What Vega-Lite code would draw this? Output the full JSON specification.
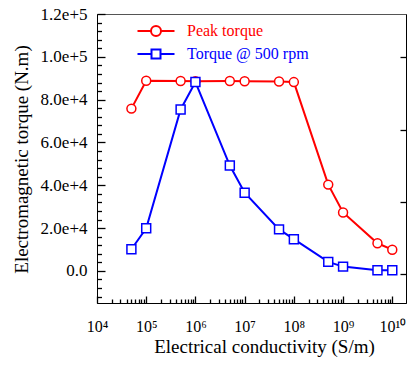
{
  "$schema": "https://vega.github.io/schema/vega-lite/v6.json",
  "width": 309,
  "height": 289,
  "autosize": {"type": "none"},
  "padding": {"left": 97, "top": 14, "right": 2, "bottom": 66},
  "background": "white",
  "config": {"view": {"stroke": "#555", "strokeWidth": 1}, "font": "Times New Roman"},
  "resolve": {"scale": {"y": "shared"}, "axis": {"y": "independent"}},
  "data": {"values": [
    {"series": "Peak torque", "x": 50000, "y": 75800},
    {"series": "Peak torque", "x": 100000, "y": 88800},
    {"series": "Peak torque", "x": 500000, "y": 88700},
    {"series": "Peak torque", "x": 1000000, "y": 88600},
    {"series": "Peak torque", "x": 5000000, "y": 88700},
    {"series": "Peak torque", "x": 10000000, "y": 88600},
    {"series": "Peak torque", "x": 50000000, "y": 88500},
    {"series": "Peak torque", "x": 100000000, "y": 88200},
    {"series": "Peak torque", "x": 500000000, "y": 40300},
    {"series": "Peak torque", "x": 1000000000, "y": 27300},
    {"series": "Peak torque", "x": 5000000000, "y": 12900},
    {"series": "Peak torque", "x": 10000000000, "y": 9900},
    {"series": "Torque @ 500 rpm", "x": 50000, "y": 10100},
    {"series": "Torque @ 500 rpm", "x": 100000, "y": 19900},
    {"series": "Torque @ 500 rpm", "x": 500000, "y": 75400},
    {"series": "Torque @ 500 rpm", "x": 1000000, "y": 88200},
    {"series": "Torque @ 500 rpm", "x": 5000000, "y": 49200},
    {"series": "Torque @ 500 rpm", "x": 10000000, "y": 36500},
    {"series": "Torque @ 500 rpm", "x": 50000000, "y": 19400},
    {"series": "Torque @ 500 rpm", "x": 100000000, "y": 14800},
    {"series": "Torque @ 500 rpm", "x": 500000000, "y": 4200},
    {"series": "Torque @ 500 rpm", "x": 1000000000, "y": 2000},
    {"series": "Torque @ 500 rpm", "x": 5000000000, "y": 300},
    {"series": "Torque @ 500 rpm", "x": 10000000000, "y": 300}
  ]},
  "encoding": {
    "x": {
      "field": "x", "type": "quantitative",
      "scale": {"type": "log", "domain": [10000, 19000000000], "nice": false},
      "axis": {
        "title": "Electrical conductivity (S/m)",
        "values": [10000, 20000, 30000, 40000, 50000, 60000, 70000, 80000, 90000,
                   100000, 200000, 300000, 400000, 500000, 600000, 700000, 800000, 900000,
                   1000000, 2000000, 3000000, 4000000, 5000000, 6000000, 7000000, 8000000, 9000000,
                   10000000, 20000000, 30000000, 40000000, 50000000, 60000000, 70000000, 80000000, 90000000,
                   100000000, 200000000, 300000000, 400000000, 500000000, 600000000, 700000000, 800000000, 900000000,
                   1000000000, 2000000000, 3000000000, 4000000000, 5000000000, 6000000000, 7000000000, 8000000000, 9000000000,
                   10000000000],
        "labelExpr": "datum.value == 10000 ? '10⁴' : datum.value == 100000 ? '10⁵' : datum.value == 1000000 ? '10⁶' : datum.value == 10000000 ? '10⁷' : datum.value == 100000000 ? '10⁸' : datum.value == 1000000000 ? '10⁹' : datum.value == 10000000000 ? '10¹⁰' : ''",
        "tickSize": {"condition": {"test": "abs(log(datum.value)/LN10 - round(log(datum.value)/LN10)) < 0.001", "value": -7}, "value": -4},
        "tickWidth": 1.3,
        "zindex": 1,
        "grid": false,
        "domainColor": "black", "tickColor": "black",
        "labelFont": "Times New Roman", "labelFontSize": 16, "labelColor": "black",
        "labelPadding": 22, "labelOverlap": false, "labelFlush": false, "labelBound": false,
        "titleFont": "Times New Roman", "titleFontSize": 19, "titleFontWeight": "normal", "titleColor": "black",
        "titleX": 167, "titleY": 49, "titleBaseline": "alphabetic", "titleAlign": "center"
      }
    }
  },
  "layer": [
    {
      "mark": {"type": "line", "strokeWidth": 2},
      "encoding": {
        "y": {
          "field": "y", "type": "quantitative",
          "scale": {"domain": [-15000, 120000], "nice": false, "zero": false},
          "axis": {
            "title": "Electromagnetic torque (N.m)",
            "values": [-12000, -8000, -4000, 0, 4000, 8000, 12000, 16000, 20000, 24000, 28000, 32000, 36000, 40000, 44000, 48000, 52000, 56000, 60000, 64000, 68000, 72000, 76000, 80000, 84000, 88000, 92000, 96000, 100000, 104000, 108000, 112000, 116000, 120000],
            "labelExpr": "datum.value >= 0 && datum.value % 20000 == 0 ? (datum.value == 0 ? '0.0' : format(datum.value, '.1e')) : ''",
            "tickSize": {"condition": {"test": "datum.value >= 0 && datum.value % 20000 == 0", "value": -8}, "value": -4.5},
            "tickWidth": 1.3,
            "zindex": 1,
            "grid": false,
            "domainColor": "black", "tickColor": "black",
            "labelFont": "Times New Roman", "labelFontSize": 17, "labelColor": "black",
            "labelPadding": 18, "labelOverlap": false, "labelFlush": false, "labelBound": false,
            "titleFont": "Times New Roman", "titleFontSize": 19, "titleFontWeight": "normal", "titleColor": "black",
            "titleX": -76, "titleY": 145, "titleAngle": -90, "titleBaseline": "middle", "titleAlign": "center"
          }
        },
        "stroke": {
          "field": "series", "type": "nominal",
          "scale": {"domain": ["Peak torque", "Torque @ 500 rpm"], "range": ["#ff0000", "#0000ff"]},
          "legend": {
            "title": null, "orient": "none", "legendX": 51, "legendY": 9,
            "padding": 0, "symbolOffset": 0,
            "symbolSize": 100, "symbolStrokeWidth": 2, "symbolFillColor": "white",
            "labelFont": "Times New Roman", "labelFontSize": 16, "labelOffset": 23, "rowPadding": 5,
            "encode": {
              "symbols": {"update": {
                "shape": {"signal": "datum.value == 'Peak torque' ? 'M-3.7,0L-1,0M1,0L3.7,0M1,0A1,1,0,1,1,-1,0A1,1,0,1,1,1,0Z' : 'M-3.7,0L-0.9,0M0.9,0L3.7,0M-0.9,-0.9L0.9,-0.9L0.9,0.9L-0.9,0.9Z'"},
                "fill": {"value": "white"}
              }},
              "labels": {"update": {
                "fill": {"signal": "datum.value == 'Peak torque' ? '#ff0000' : '#0000ff'"}
              }}
            }
          }
        }
      }
    },
    {
      "transform": [{"filter": "datum.series == 'Peak torque'"}],
      "mark": {"type": "point", "shape": "circle", "filled": true, "fill": "white", "stroke": "#ff0000", "size": 80, "strokeWidth": 1.5, "opacity": 1},
      "encoding": {"y": {"field": "y", "type": "quantitative", "axis": null}}
    },
    {
      "transform": [{"filter": "datum.series == 'Torque @ 500 rpm'"}],
      "mark": {"type": "point", "shape": "square", "filled": true, "fill": "white", "stroke": "#0000ff", "size": 80, "strokeWidth": 1.5, "opacity": 1},
      "encoding": {"y": {"field": "y", "type": "quantitative", "axis": null}}
    },
    {
      "data": {"values": [{}]},
      "mark": {"type": "text", "align": "left", "baseline": "alphabetic", "font": "Times New Roman", "fontSize": 16, "lineHeight": 21.5, "color": "black"},
      "encoding": {
        "x": {"datum": 200000, "type": "quantitative"},
        "y": {
          "datum": 11600, "type": "quantitative",
          "axis": {"orient": "right", "title": null, "values": [100000, 66000, 32000, -1500], "labels": false, "tickSize": -6, "tickWidth": 1.3, "zindex": 1, "grid": false, "domainColor": "black", "tickColor": "black"}
        },
        "text": {"value": ["Φ = 640 mm", "L = 1500 mm", "B = 0.5 T"]}
      }
    }
  ]
}
